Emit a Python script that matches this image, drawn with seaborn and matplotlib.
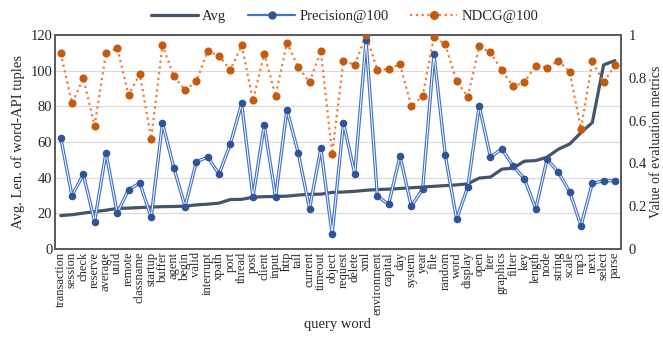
import matplotlib
matplotlib.use("Agg")
import matplotlib.pyplot as plt
from matplotlib.lines import Line2D
import numpy as np
import pandas as pd
import seaborn as sns

words = ["transaction", "session", "check", "reserve", "average", "uuid", "remote",
         "classname", "startup", "buffer", "agent", "begin", "valid", "interrupt",
         "xpath", "port", "thread", "post", "client", "input", "http", "tail",
         "current", "timeout", "object", "request", "delete", "xml", "environment",
         "capital", "day", "system", "year", "file", "random", "word", "display",
         "open", "iter", "graphics", "filter", "key", "length", "node", "string",
         "scale", "mp3", "next", "select", "parse"]

avg_len = [18.8, 19.3, 20.2, 21.0, 21.8, 22.8, 23.0, 23.3, 23.6, 23.8,
           23.9, 24.1, 24.8, 25.2, 25.8, 27.8, 27.9, 29.1, 29.4, 29.5,
           29.7, 30.3, 30.7, 30.8, 31.8, 32.0, 32.4, 33.0, 33.4, 33.6,
           34.0, 34.4, 34.8, 35.2, 35.6, 36.0, 36.6, 39.8, 40.4, 44.8,
           45.4, 49.3, 49.6, 51.5, 56.0, 58.9, 65.3, 70.9, 103.2, 105.6]

precision = [0.521, 0.249, 0.350, 0.129, 0.450, 0.168, 0.278, 0.308, 0.148, 0.589,
             0.380, 0.199, 0.409, 0.429, 0.350, 0.491, 0.680, 0.242, 0.580, 0.242,
             0.650, 0.450, 0.188, 0.470, 0.070, 0.590, 0.351, 0.974, 0.246, 0.210,
             0.435, 0.200, 0.280, 0.911, 0.440, 0.140, 0.292, 0.670, 0.429, 0.468,
             0.389, 0.328, 0.188, 0.420, 0.359, 0.267, 0.109, 0.308, 0.319, 0.319]

ndcg = [0.914, 0.681, 0.798, 0.577, 0.914, 0.939, 0.720, 0.818, 0.515, 0.953,
        0.807, 0.742, 0.784, 0.925, 0.902, 0.837, 0.952, 0.694, 0.913, 0.715,
        0.963, 0.850, 0.780, 0.925, 0.445, 0.880, 0.860, 1.000, 0.835, 0.841,
        0.863, 0.667, 0.714, 0.992, 0.956, 0.784, 0.712, 0.946, 0.918, 0.835,
        0.760, 0.780, 0.857, 0.846, 0.880, 0.827, 0.561, 0.877, 0.779, 0.858]

df = pd.DataFrame({"idx": np.arange(len(words)), "word": words, "avg": avg_len,
                   "precision": precision, "ndcg": ndcg})

sns.set_theme(style="white")
plt.rcParams["font.family"] = ["Liberation Serif", "DejaVu Serif"]

AVG_C = "#44546A"
PREC_LINE = "#4472C4"
PREC_MARK = "#2F5597"
NDCG_LINE = "#ED7D31"
NDCG_MARK = "#C55A11"
SPINE_C = "#595959"

fig, ax = plt.subplots(figsize=(6.63, 3.39), dpi=100)
fig.subplots_adjust(left=0.083, right=0.936, top=0.897, bottom=0.265)

sns.lineplot(data=df, x="idx", y="avg", ax=ax, color=AVG_C, linewidth=2.3, sort=False)
ax.set_ylim(0, 120)
ax.set_yticks(range(0, 121, 20))
ax.set_xlim(-0.5, len(words) - 0.5)
ax.yaxis.grid(True, color="#D9D9D9", linewidth=0.8)
ax.set_axisbelow(True)
ax.set_ylabel("Avg. Len. of word-API tuples", fontsize=10.5, labelpad=4)
ax.set_xlabel("query word", fontsize=10.5, labelpad=2)
ax.set_xticks(df["idx"])
ax.set_xticklabels(words, rotation=90, fontsize=9)
ax.tick_params(axis="both", length=0, pad=2)
ax.tick_params(axis="y", labelsize=10.5)

ax2 = ax.twinx()
sns.lineplot(data=df, x="idx", y="precision", ax=ax2, color=PREC_LINE, linewidth=2.4, sort=False)
sns.lineplot(data=df, x="idx", y="precision", ax=ax2, color="white", linewidth=0.7, sort=False)
sns.scatterplot(data=df, x="idx", y="precision", ax=ax2, color=PREC_MARK, s=30,
                edgecolor=PREC_MARK, linewidth=0, zorder=4)
sns.lineplot(data=df, x="idx", y="ndcg", ax=ax2, color=NDCG_LINE, linewidth=1.6,
             linestyle=(0, (1, 1.6)), sort=False)
sns.scatterplot(data=df, x="idx", y="ndcg", ax=ax2, color=NDCG_MARK, s=34,
                edgecolor=NDCG_MARK, linewidth=0, zorder=4)
ax2.set_ylim(0, 1)
ax2.set_yticks([0, 0.2, 0.4, 0.6, 0.8, 1])
ax2.set_yticklabels(["0", "0.2", "0.4", "0.6", "0.8", "1"])
ax2.set_ylabel("Value of evaluation metrics", fontsize=10, labelpad=2)
ax2.tick_params(axis="y", length=0, pad=6, labelsize=10.5)
ax2.grid(False)

for a in (ax, ax2):
    for s in a.spines.values():
        s.set_visible(True)
        s.set_color(SPINE_C)
        s.set_linewidth(1.2)

handles = [
    Line2D([], [], color=AVG_C, linewidth=2.3),
    Line2D([], [], color=PREC_LINE, linewidth=1.6, marker="o",
           markerfacecolor=PREC_MARK, markeredgecolor=PREC_MARK, markersize=5),
    Line2D([], [], color=NDCG_LINE, linewidth=1.6, linestyle=(0, (1, 1.6)), marker="o",
           markerfacecolor=NDCG_MARK, markeredgecolor=NDCG_MARK, markersize=5.5),
]
fig.legend(handles, ["Avg", "Precision@100", "NDCG@100"], loc="upper center",
           bbox_to_anchor=(0.52, 1.01), ncol=3, frameon=False, fontsize=10.5,
           handlelength=3.2, columnspacing=1.5, handletextpad=0.3)

fig.savefig("out.png", dpi=100)
